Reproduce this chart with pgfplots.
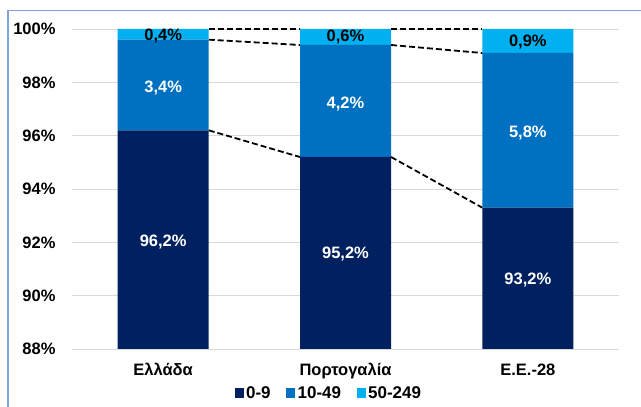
\documentclass[border=0pt]{standalone}
\usepackage{pgfplots}
\pgfplotsset{compat=1.18}
\usepackage{fontspec}
\setmainfont{Liberation Sans}
\definecolor{cNavy}{HTML}{002060}
\definecolor{cMid}{HTML}{0070C0}
\definecolor{cLight}{HTML}{00B0F0}
\definecolor{cGrid}{HTML}{D9D9D9}
\definecolor{cBorder}{HTML}{7FA4DC}
\newcommand{\lblfont}{\fontsize{16.5bp}{19bp}\selectfont\bfseries}
\newcommand{\legfont}{\fontsize{17bp}{19bp}\selectfont\bfseries}
\begin{document}
\begin{tikzpicture}
\path[use as bounding box] (-72bp,-58bp) rectangle (569bp,349bp);
\draw[cBorder, line width=1.2bp] (-64bp,-58bp) -- (-64bp,338.5bp) -- (569bp,338.5bp);
\begin{axis}[
  at={(0,0)}, anchor=south west,
  width=547bp, height=320bp, scale only axis,
  xmin=-0.5, xmax=2.5, ymin=88, ymax=100,
  ybar stacked, bar width=91bp,
  axis line style={draw=none},
  major tick length=0pt,
  ymajorgrids, grid style={cGrid, line width=0.9bp},
  ytick={88,90,...,100},
  /pgf/number format/assume math mode=true,
  yticklabel={\pgfmathprintnumber{\tick}\%},
  yticklabel style={font=\lblfont, xshift=-13bp},
  xtick={0,1,2},
  xticklabels={Ελλάδα,Πορτογαλία,Ε.Ε.-28},
  xticklabel style={font=\lblfont, yshift=-11bp},
  legend columns=3,
  legend style={draw=none, fill=none, at={(0.47,-0.1375)}, anchor=center,
    font=\legfont,
    /tikz/every even column/.append style={column sep=13bp},
    nodes={inner sep=2.5bp}},
  legend image code/.code={\fill[#1] (-1.5bp,-4.5bp) rectangle (7.5bp,4.5bp);},
]
\addplot[fill=cNavy, draw=none] coordinates {(0,96.2) (1,95.2) (2,93.3)};
\addplot[fill=cMid, draw=none] coordinates {(0,3.4) (1,4.2) (2,5.8)};
\addplot[fill=cLight, draw=none] coordinates {(0,0.4) (1,0.6) (2,0.9)};
\legend{0-9,10-49,50-249}
\end{axis}
\begin{axis}[
  at={(0,0)}, anchor=south west,
  width=547bp, height=320bp, scale only axis,
  xmin=-0.5, xmax=2.5, ymin=88, ymax=100,
  hide axis, clip=false,
  every node near coord/.append style={anchor=center, font=\lblfont},
]
\addplot[black, line width=1.8bp, dash pattern=on 6bp off 3bp] coordinates {(0.25,96.2) (0.75,95.2)};
\addplot[black, line width=1.8bp, dash pattern=on 6bp off 3bp] coordinates {(1.25,95.2) (1.75,93.3)};
\addplot[black, line width=1.8bp, dash pattern=on 6bp off 3bp] coordinates {(0.25,99.6) (0.75,99.4)};
\addplot[black, line width=1.8bp, dash pattern=on 6bp off 3bp] coordinates {(1.25,99.4) (1.75,99.1)};
\addplot[black, line width=1.8bp, dash pattern=on 6bp off 3bp] coordinates {(0.25,100) (0.75,100)};
\addplot[black, line width=1.8bp, dash pattern=on 6bp off 3bp] coordinates {(1.25,100) (1.75,100)};
\addplot[draw=none, mark=none, nodes near coords, point meta=explicit symbolic,
  every node near coord/.append style={text=white}] table[meta=label] {
x y label
0 92.0 96,2\%
1 91.55 95,2\%
2 90.6 93,2\%
0 97.8 3,4\%
1 97.2 4,2\%
2 96.1 5,8\%
};
\addplot[draw=none, mark=none, nodes near coords, point meta=explicit symbolic,
  every node near coord/.append style={text=black}] table[meta=label] {
x y label
0 99.75 0,4\%
1 99.7 0,6\%
2 99.5 0,9\%
};
\end{axis}
\end{tikzpicture}
\end{document}
